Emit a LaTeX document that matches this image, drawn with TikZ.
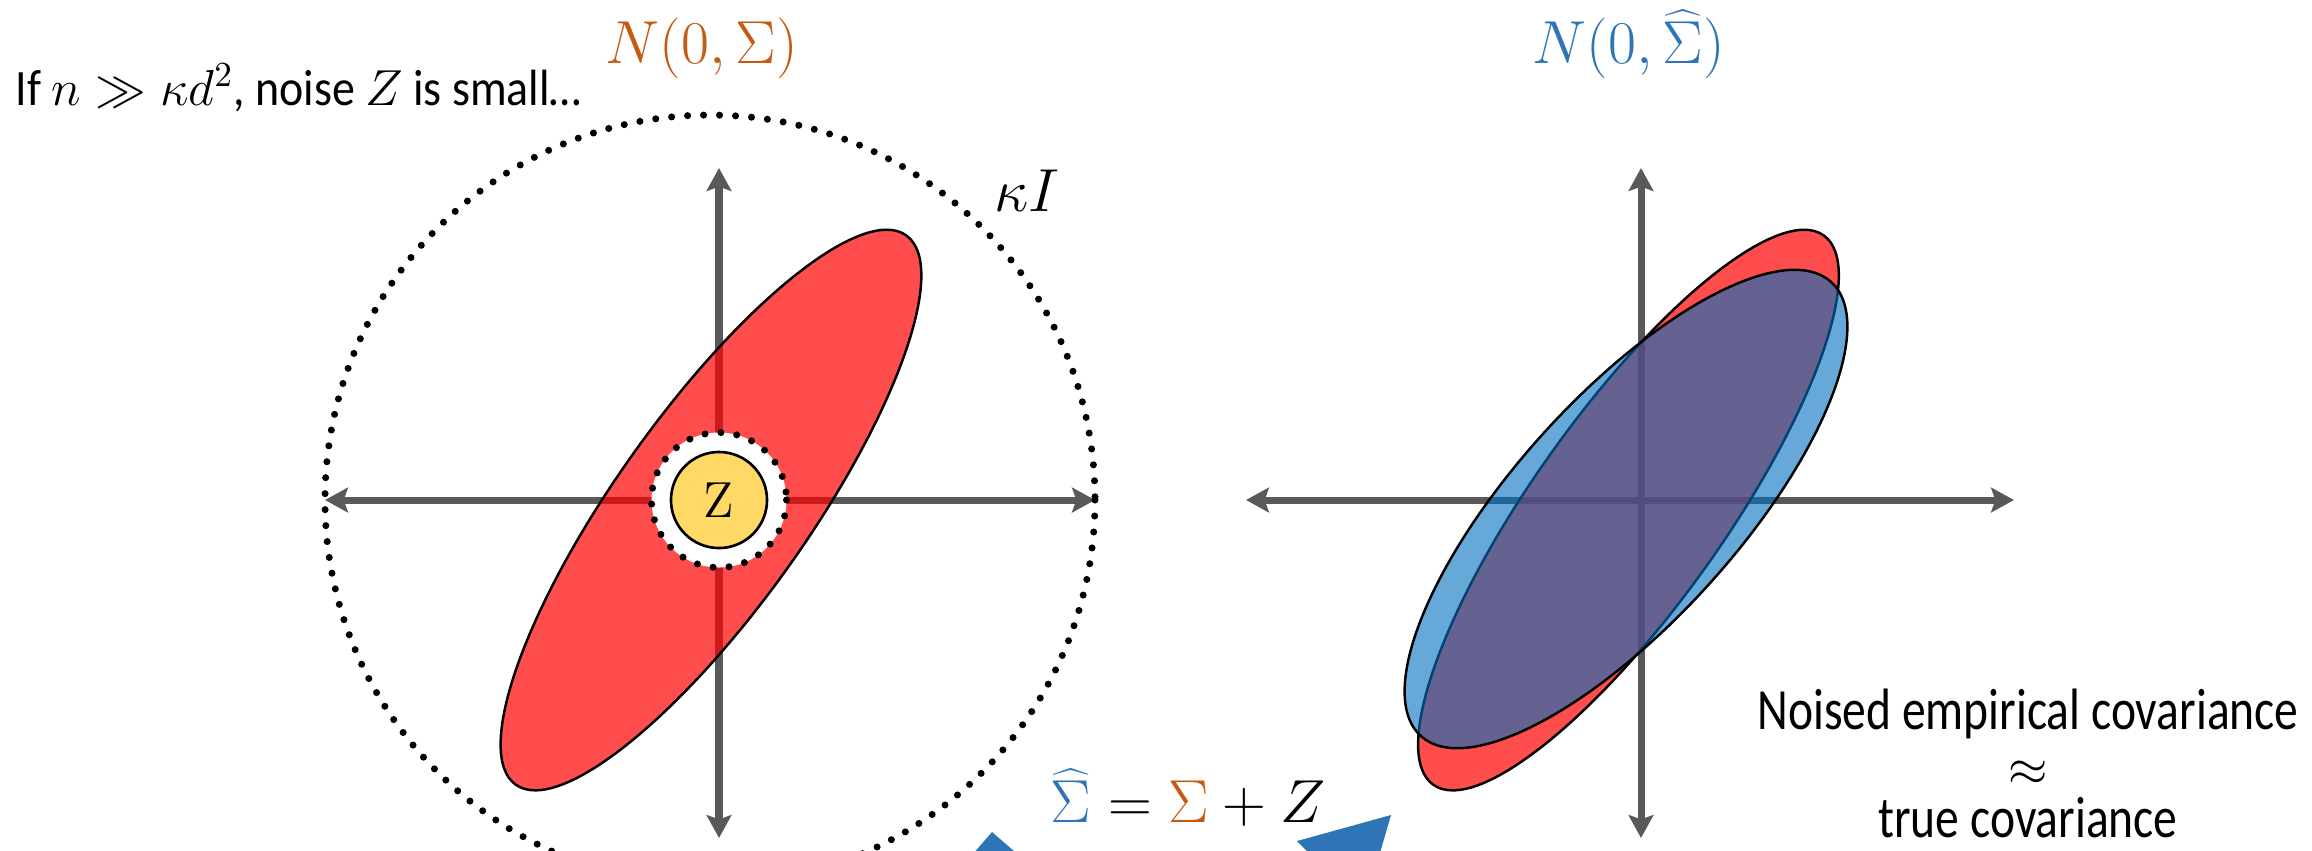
\documentclass[tikz,border=0pt]{standalone}
\usepackage[no-math]{fontspec}
\setmainfont{Carlito}
\newfontfamily\condA{Carlito}[FakeStretch=0.9]
\newfontfamily\condB{Carlito}[FakeStretch=0.815]
\usetikzlibrary{arrows.meta}
\definecolor{axisgray}{HTML}{595959}
\definecolor{orangeC}{HTML}{C55A11}
\definecolor{blueC}{HTML}{2E75B6}
\definecolor{pptblue}{HTML}{0070C0}
\definecolor{zyellow}{HTML}{FFD966}
\begin{document}
\begin{tikzpicture}[x=0.01cm,y=-0.01cm,
  axisline/.style={draw=axisgray, line width=2pt,
    {Stealth[length=6.5pt,width=7pt,inset=1.2pt]}-{Stealth[length=6.5pt,width=7pt,inset=1.2pt]}},
  dotline/.style={draw=black, line width=2pt, line cap=round, dash pattern=on 0pt off 4.55pt},
  redell/.style={fill=red, fill opacity=0.7, draw=black, line width=0.7pt},
  blueell/.style={fill=pptblue, fill opacity=0.6, draw=black, line width=0.7pt},
  arrowpart/.style={fill=blueC},
  lbl/.style={inner sep=0pt, anchor=base},
  sidetext/.style={lbl, font=\fontsize{16.6}{20}\selectfont\condB}]
\useasboundingbox (0,0) rectangle (2312,850);
\clip (0,0) rectangle (2312,850);

% ---------- left plot ----------
\coordinate (Lc) at (719,500);
\coordinate (LxW) at (325,500);
\coordinate (LxE) at (1095,500);
\coordinate (LyN) at (719,168);
\coordinate (LyS) at (719,838);
\coordinate (Lk) at (710,500);
\coordinate (Lr) at (711,510);

\draw[axisline] (LxW) -- (LxE);
\draw[axisline] (LyN) -- (LyS);
\draw[dotline] (Lk) circle [radius=385];
\draw[redell, rotate around={54.6:(Lr)}] (Lr) ellipse [x radius=337, y radius=96];
\draw[dotline, fill=white] (Lc) circle [radius=67.5];
\node[circle, fill=zyellow, draw=black, line width=0.75pt, minimum size=0.96cm, inner sep=0pt,
      font=\fontsize{14.4}{17}\selectfont] (Z) at (Lc) {$\mathrm{Z}$};

% ---------- right plot ----------
\coordinate (Rc) at (1641,500);
\coordinate (RxW) at (1246,500);
\coordinate (RxE) at (2014,500);
\coordinate (RyN) at (1641,168);
\coordinate (RyS) at (1641,838);
\coordinate (Rr) at (1628.5,510);
\coordinate (Rb) at (1626,509);

\draw[axisline] (RxW) -- (RxE);
\draw[axisline] (RyN) -- (RyS);
\draw[redell, rotate around={54.6:(Rr)}] (Rr) ellipse [x radius=337, y radius=96];
\draw[blueell, rotate around={47.9:(Rb)}] (Rb) ellipse [x radius=306, y radius=112];

% ---------- texts ----------
\node[inner sep=0pt, anchor=base west, font=\fontsize{14.5}{17}\selectfont\condA] (cond) at (15,105)
  {If $n \gg \kappa d^2$, noise $Z$ is small…};
\node[lbl, font=\fontsize{16.5}{20}\selectfont, text=orangeC] (NL) at (702,63) {$N(0,\Sigma)$};
\node[lbl, font=\fontsize{16.5}{20}\selectfont, text=blueC] (NR) at (1629,63) {$N\bigl(0,\widehat{\Sigma}\bigr)$};
\node[lbl, font=\fontsize{18}{22}\selectfont] (kI) at (1027,211) {$\kappa I$};
\node[inner sep=0pt, anchor=base west, font=\fontsize{16.5}{20}\selectfont] (eq) at (1050,822)
  {$\textcolor{blueC}{\widehat{\Sigma}} = \textcolor{orangeC}{\Sigma} + Z$};
\node[sidetext] (t1) at (2028,729) {Noised empirical covariance};
\node[lbl, font=\fontsize{14.4}{17}\selectfont] (t2) at (2028,785) {$\approx$};
\node[sidetext] (t3) at (2028,837) {true covariance};

% ---------- blue arrow parts at the bottom edge ----------
\fill[arrowpart] (992,832) -- (1036,870) -- (959,870) -- cycle;
\fill[arrowpart] (1391,815) -- (1297,841) -- (1326,870) -- (1375,870) -- cycle;
\end{tikzpicture}
\end{document}
